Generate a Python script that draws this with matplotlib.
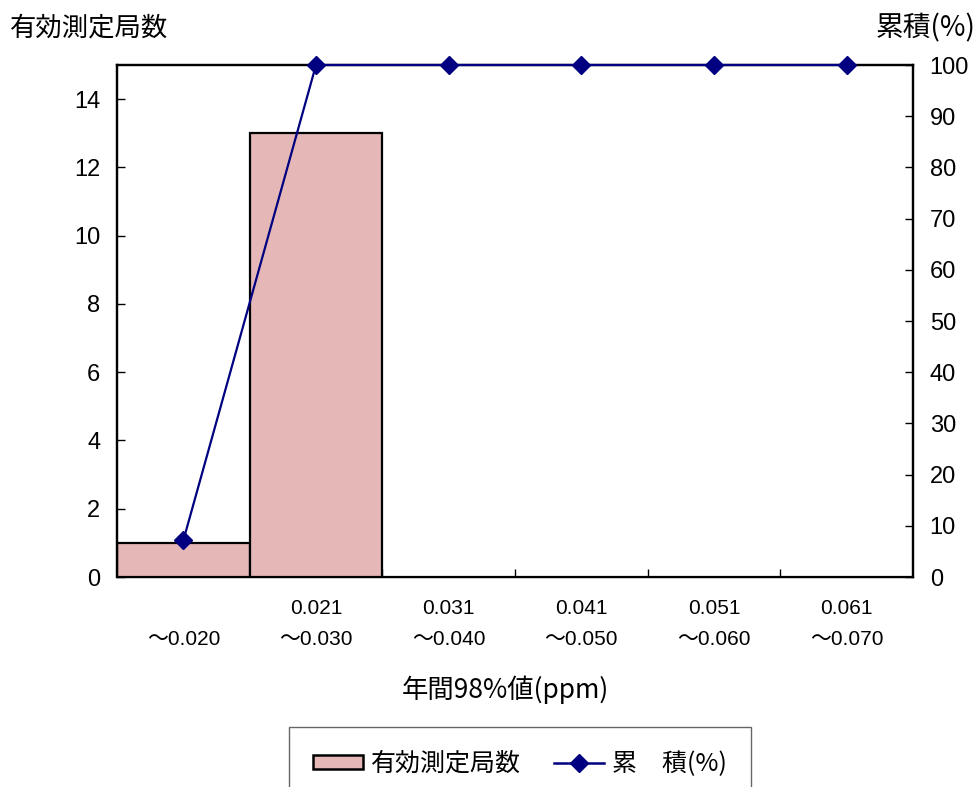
import matplotlib
matplotlib.use("Agg")
import matplotlib.pyplot as plt
from matplotlib.lines import Line2D
from matplotlib.patches import Patch

plt.rcParams['font.family'] = ['Liberation Sans', 'Noto Sans CJK JP']
CJK = ['Noto Sans CJK JP', 'Liberation Sans']

# Data
categories = ["\n～0.020", "0.021\n～0.030", "0.031\n～0.040",
              "0.041\n～0.050", "0.051\n～0.060", "0.061\n～0.070"]
station_counts = [1, 13, 0, 0, 0, 0]
cumulative_pct = [7.14, 100, 100, 100, 100, 100]

bar_color = '#E5B8B7'
line_color = '#000080'

fig = plt.figure(figsize=(9.78, 7.87), dpi=100)
ax = fig.add_axes([117/978, 1-577/787, (913-117)/978, (577-65)/787])

x = list(range(len(categories)))
ax.bar(x, station_counts, width=1.0, color=bar_color, edgecolor='black',
       linewidth=1.6, zorder=2)
ax.set_xlim(-0.5, len(categories) - 0.5)
ax.set_ylim(0, 15)
ax.set_yticks(range(0, 15, 2))

# category boundaries as inward ticks, labels at category centres
ax.set_xticks([i + 0.5 for i in range(len(categories) - 1)])
ax.set_xticklabels([])
ax.set_xticks(x, minor=True)
ax.set_xticklabels(categories, minor=True, fontsize=15, linespacing=1.8)
ax.tick_params(axis='x', which='major', direction='in', length=6, width=1)
ax.tick_params(axis='x', which='minor', length=0, pad=16)
ax.tick_params(axis='y', direction='in', length=6, width=1, labelsize=17, pad=12)

for side in ['left', 'top', 'right']:
    ax.spines[side].set_linewidth(1.6)
ax.spines['bottom'].set_linewidth(1.0)

ax2 = ax.twinx()
ax2.plot(x, cumulative_pct, color=line_color, linewidth=1.6, marker='D',
         markersize=9, zorder=3, clip_on=False)
ax2.set_ylim(0, 100)
ax2.set_yticks(range(0, 101, 10))
ax2.tick_params(axis='y', direction='in', length=6, width=1, labelsize=17, pad=12)
for side in ['left', 'top', 'right']:
    ax2.spines[side].set_linewidth(1.6)
ax2.spines['bottom'].set_visible(False)

fig.text(10/978, 1-28/787, "有効測定局数", fontsize=19, ha='left', va='center',
         family=CJK)
fig.text(976/978, 1-28/787, "累積(%)", fontsize=20, ha='right', va='center',
         family=CJK)
fig.text(505/978, 1-690/787, "年間98%値(ppm)", fontsize=19,
         ha='center', va='center', family=CJK)

handles = [Patch(facecolor=bar_color, edgecolor='black', linewidth=1.8),
           Line2D([], [], color=line_color, linewidth=1.8, marker='D', markersize=9)]
leg = fig.legend(handles, ["有効測定局数", "累　積(%)"], loc='upper center',
                 bbox_to_anchor=(520/978, 1-727/787), ncol=2, frameon=True,
                 fancybox=False, edgecolor='#404040',
                 prop={'family': CJK, 'size': 18},
                 handlelength=2.0, handleheight=0.5, columnspacing=1.35,
                 borderpad=0.95, borderaxespad=0, handletextpad=0.3)
leg.get_frame().set_linewidth(1.0)

fig.savefig("out.png", dpi=100)
